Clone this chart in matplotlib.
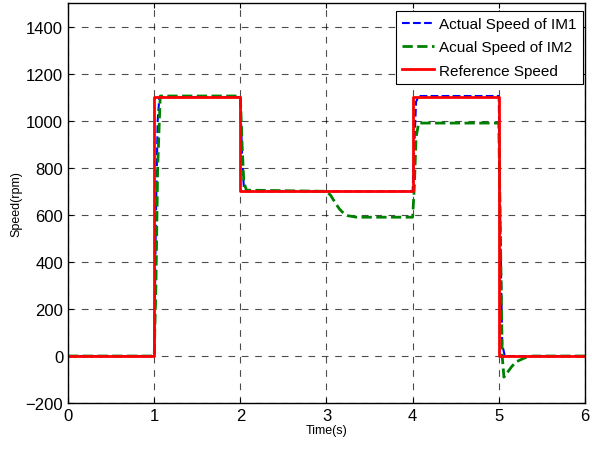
import matplotlib
matplotlib.use("Agg")
import matplotlib.pyplot as plt

plt.rcParams['font.family'] = ['Liberation Sans', 'DejaVu Sans']

# reference speed (rpm)
ref_t = [0, 1.0, 1.0, 2.0, 2.0, 4.0, 4.0, 5.0, 5.0, 6.0]
ref_w = [0, 0, 1100, 1100, 700, 700, 1100, 1100, 0, 0]

# actual speed of IM1
im1_t = [0, 1.0, 1.02, 1.04, 1.06, 2.0, 2.02, 2.04, 2.07, 4.0, 4.02, 4.04, 4.07, 5.0, 5.02, 5.04, 5.07, 6.0]
im1_w = [0, 0, 600, 1000, 1100, 1100, 850, 720, 700, 700, 900, 1080, 1105, 1105, 500, 50, 0, 0]

# actual speed of IM2
im2_t = [0, 1.0, 1.02, 1.04, 1.07, 2.0, 2.02, 2.04, 2.07, 3.0, 3.05, 3.1, 3.15, 3.2, 3.25, 3.35, 4.0,
         4.02, 4.04, 4.07, 5.0, 5.02, 5.04, 5.06, 5.1, 5.15, 5.2, 5.3, 5.4, 6.0]
im2_w = [0, 0, 300, 800, 1105, 1105, 900, 740, 705, 700, 682, 652, 625, 606, 596, 590, 590,
         720, 930, 990, 990, 500, 0, -90, -70, -45, -25, -8, 0, 0]

fig, ax = plt.subplots(figsize=(5.92, 4.52), dpi=100)
fig.subplots_adjust(left=0.115, right=0.988, bottom=0.106, top=0.991)

ax.plot(im1_t, im1_w, color='blue', linestyle='--', linewidth=1.5, label='Actual Speed of IM1')
ax.plot(im2_t, im2_w, color='green', linestyle='--', linewidth=2, label='Acual Speed of IM2')
ax.plot(ref_t, ref_w, color='red', linestyle='-', linewidth=2, label='Reference Speed')

ax.set_xlim(0, 6)
ax.set_ylim(-200, 1500)
ax.set_xticks(range(0, 7))
ax.set_yticks(range(-200, 1401, 200))
ax.grid(True, color='black', linestyle=(0, (6, 6)), linewidth=0.8, alpha=0.7)
ax.tick_params(direction='in', labelsize=12, top=True, right=True)
for s in ax.spines.values():
    s.set_linewidth(1.0)

ax.set_xlabel('Time(s)', fontsize=9, labelpad=1)
ax.set_ylabel('Speed(rpm)', fontsize=9, labelpad=2)

leg = ax.legend(loc='upper right', bbox_to_anchor=(0.996, 0.98), borderaxespad=0,
                fontsize=11, fancybox=False, framealpha=1, edgecolor='black',
                borderpad=0.4, labelspacing=0.6, handlelength=2.1, handletextpad=0.35)
leg.get_frame().set_linewidth(0.8)

fig.savefig('out.png', dpi=100)
